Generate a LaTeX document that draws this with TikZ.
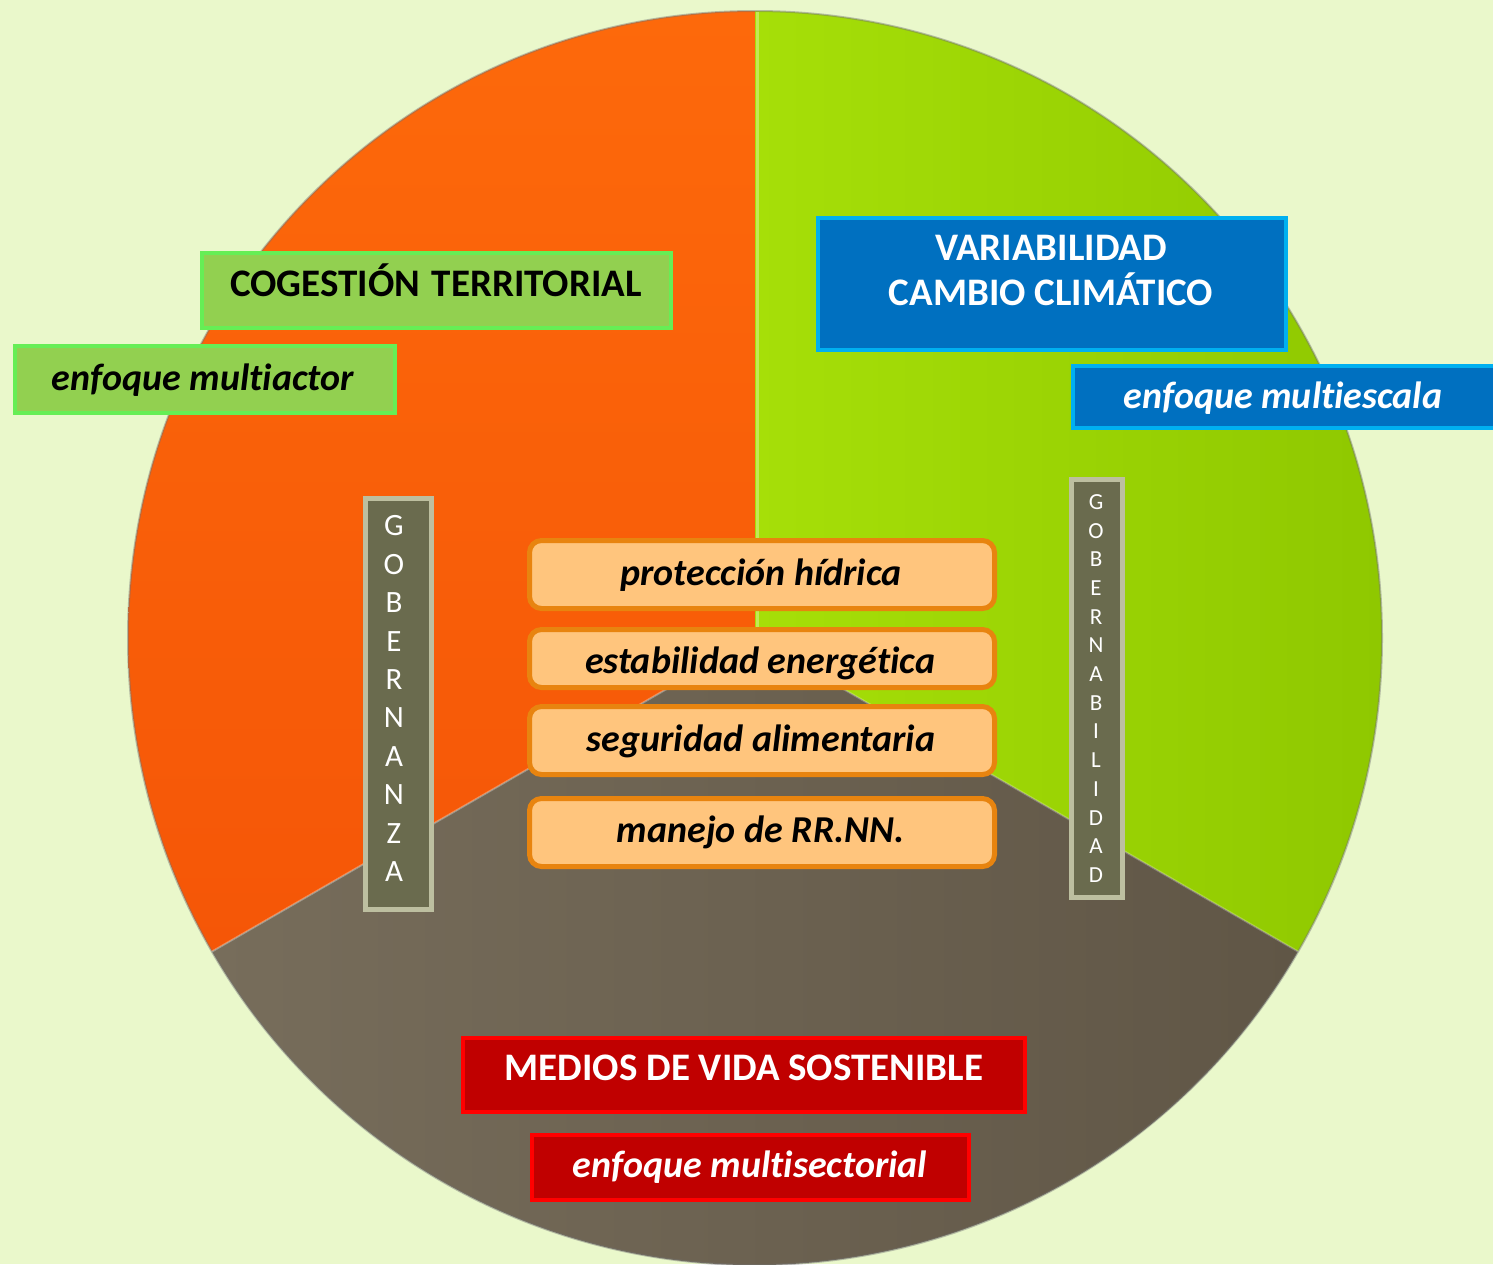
\documentclass[tikz,border=0pt]{standalone}
\usepackage{fontspec}
\setmainfont[Ligatures=NoCommon]{Carlito}
\newdimen\px \px=0.5pt
\definecolor{bg}{HTML}{EAF8CB}
\definecolor{orA}{HTML}{FD690B}
\definecolor{orB}{HTML}{F55607}
\definecolor{grA}{HTML}{A6DF08}
\definecolor{grB}{HTML}{8FC800}
\definecolor{brA}{HTML}{776D5B}
\definecolor{brB}{HTML}{605646}
\definecolor{lgfill}{HTML}{92D050}
\definecolor{lgline}{HTML}{66EE55}
\definecolor{bluefill}{HTML}{0070C0}
\definecolor{blueline}{HTML}{00B0F0}
\definecolor{redfill}{HTML}{C00000}
\definecolor{redline}{HTML}{FF0000}
\definecolor{peach}{HTML}{FFC57D}
\definecolor{peachline}{HTML}{E8840F}
\definecolor{olivefill}{HTML}{6A6B4E}
\definecolor{oliveline}{HTML}{BDBFA0}
\tikzset{
  labelbox/.style={draw, line width=4\px, inner sep=0pt},
  greenbox/.style={labelbox, fill=lgfill, draw=lgline},
  bluebox/.style={labelbox, fill=bluefill, draw=blueline},
  redbox/.style={labelbox, fill=redfill, draw=redline},
  peachbox/.style={labelbox, line width=5\px, fill=peach, draw=peachline, rounded corners=12\px},
  olivebox/.style={labelbox, line width=5\px, fill=olivefill, draw=oliveline},
  title/.style={font=\fontsize{19.5pt}{23pt}\selectfont\bfseries, anchor=base, inner sep=0pt, align=center},
  approach/.style={font=\fontsize{19pt}{22pt}\selectfont\bfseries\itshape, anchor=base, inner sep=0pt},
  bigletter/.style={font=\fontsize{15.5pt}{18pt}\selectfont, text=white, inner sep=0pt},
  smallletter/.style={font=\fontsize{11.5pt}{13pt}\selectfont, text=white, inner sep=0pt},
}
\begin{document}
\begin{tikzpicture}[x=0.5pt,y=-0.5pt]
\fill[bg] (0,0) rectangle (1493,1264);
\useasboundingbox (0,0) rectangle (1493,1264);
\coordinate (C) at (755,638);

% pie sectors
\shade[top color=orA, bottom color=orB]
  (C) -- (755,11) arc[start angle=-90, end angle=-210, radius=627] -- cycle;
\shade[left color=grA, right color=grB]
  (C) -- (755,11) arc[start angle=-90, end angle=30, radius=627] -- cycle;
\shade[left color=brA, right color=brB]
  (C) -- (1298,951.5) arc[start angle=30, end angle=150, radius=627] -- cycle;
% rim and dividers
\draw[line width=2\px, black!55, opacity=0.45] (C) circle[radius=627];
\draw[line width=3\px, grA!60!white, opacity=0.8] (757,12) -- (757,638);
\draw[line width=2\px, white, opacity=0.3] (C) -- (212,951.5);
\draw[line width=2\px, white, opacity=0.25] (C) -- (1298,951.5);

% territorial
\node[greenbox, minimum width=469\px, minimum height=75\px] (cogbox) at (436.5,290.5) {};
\node[title] (cogtext) at (436,296) {COGESTIÓN\hspace{0.3em}TERRITORIAL};
\node[greenbox, minimum width=380\px, minimum height=67\px] (actorbox) at (205,379.5) {};
\node[approach] (actortext) at (203,390) {enfoque multiactor};

% climate
\node[bluebox, minimum width=468\px, minimum height=132\px] (climbox) at (1052,284) {};
\node[title, text=white] (climtext1) at (1051,260) {VARIABILIDAD};
\node[title, text=white] (climtext2) at (1051,305) {CAMBIO CLIMÁTICO};
\node[bluebox, minimum width=425\px, minimum height=62\px] (scalebox) at (1285.5,397) {};
\node[approach, text=white] (scaletext) at (1283,408) {enfoque multiescala};

% livelihoods
\node[redbox, minimum width=562\px, minimum height=74\px] (livbox) at (744,1075) {};
\node[title, text=white] (livtext) at (744,1080) {MEDIOS DE VIDA SOSTENIBLE};
\node[redbox, minimum width=437\px, minimum height=65\px] (sectbox) at (750.5,1167.5) {};
\node[approach, text=white] (secttext) at (750,1177) {enfoque multisectorial};

% central themes
\node[peachbox, minimum width=465\px, minimum height=68\px] (p1) at (762,574.5) {};
\node[approach] (p1text) at (761,585) {protección hídrica};
\node[peachbox, minimum width=465\px, minimum height=58\px] (p2) at (762,658.5) {};
\node[approach] (p2text) at (760,673) {estabilidad energética};
\node[peachbox, minimum width=465\px, minimum height=68\px] (p3) at (762,740.5) {};
\node[approach] (p3text) at (761,751) {seguridad alimentaria};
\node[peachbox, minimum width=465\px, minimum height=68\px] (p4) at (762,832.5) {};
\node[approach] (p4text) at (761,842) {manejo de RR.NN.};

% vertical labels
\node[olivebox, minimum width=66\px, minimum height=411\px] (govbox) at (398.5,704) {};
\foreach \l [count=\i from 0] in {G,O,B,E,R,N,A,N,Z,A}
  \node[bigletter] (gov\i) at (394,{526+38.4*\i}) {\l};
\node[olivebox, minimum width=51\px, minimum height=418\px] (gbbox) at (1097,688.5) {};
\foreach \l [count=\i from 0] in {G,O,B,E,R,N,A,B,I,L,I,D,A,D}
  \node[smallletter] (gb\i) at (1096,{502+28.7*\i}) {\l};
\end{tikzpicture}
\end{document}
